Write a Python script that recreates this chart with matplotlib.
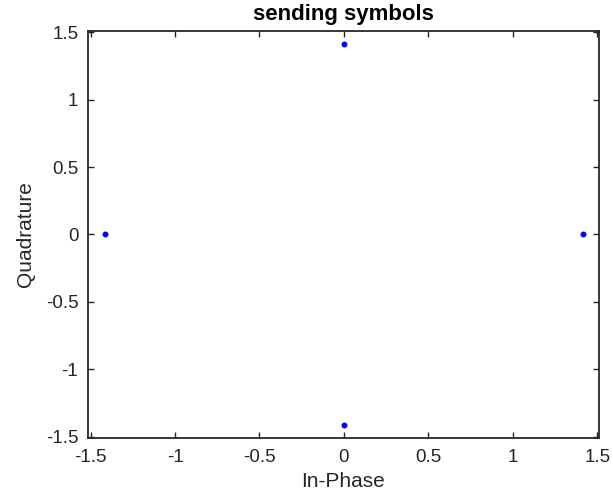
import matplotlib
matplotlib.use("Agg")
import matplotlib.pyplot as plt

in_phase = [1.4142, 0.0, -1.4142, 0.0]
quadrature = [0.0, 1.4142, 0.0, -1.4142]
ticks = [-1.5, -1, -0.5, 0, 0.5, 1, 1.5]
tick_labels = ["-1.5", "-1", "-0.5", "0", "0.5", "1", "1.5"]

plt.rcParams['font.family'] = ['Liberation Sans', 'DejaVu Sans']

fig = plt.figure(figsize=(6.13, 4.95), dpi=100)
ax = fig.add_axes([0.1436, 0.1152, 0.8334, 0.8222])
ax.plot(in_phase, quadrature, linestyle='none', marker='.', color='#0000ff', markersize=6.5)
ax.set_xlim(-1.515, 1.51)
ax.set_ylim(-1.51, 1.51)
ax.set_xticks(ticks)
ax.set_xticklabels(tick_labels)
ax.set_yticks(ticks)
ax.set_yticklabels(tick_labels)
ax.tick_params(direction='in', top=True, right=True, length=4, width=1, labelsize=13.5,
               colors='#262626')
ax.tick_params(axis='x', pad=8)
ax.tick_params(axis='y', pad=7)
for s in ax.spines.values():
    s.set_linewidth(1.3)
    s.set_color('#262626')
ax.set_xlabel('In-Phase', fontsize=15, color='#262626', labelpad=4)
ax.set_ylabel('Quadrature', fontsize=15, color='#262626', labelpad=8)
ax.set_title('sending symbols', fontsize=16, fontweight='bold', pad=8)
fig.savefig('out.png', dpi=100)
